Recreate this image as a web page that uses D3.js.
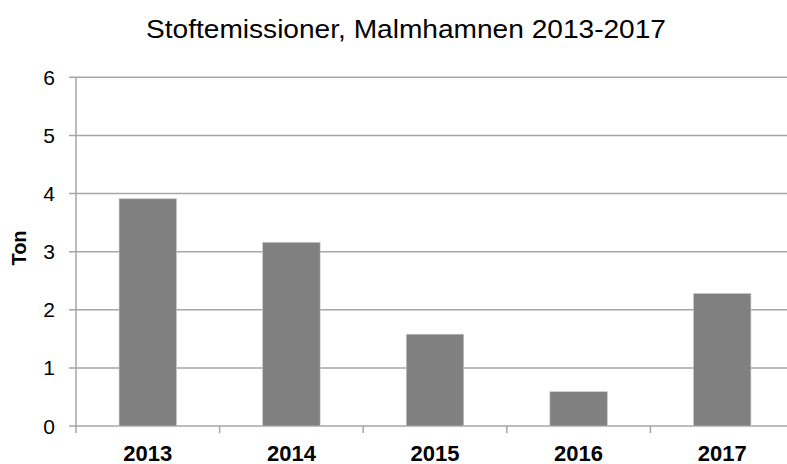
<!DOCTYPE html>
<html><head><meta charset="utf-8">
<script src="https://cdn.jsdelivr.net/npm/d3@7"></script>
<style>body{margin:0;background:#fff}svg{display:block;font-family:"Liberation Sans",Arial,sans-serif}</style>
</head><body>
<svg id="c" width="787" height="464"></svg>
<script>
const categories = ["2013","2014","2015","2016","2017"];
const values = [3.91, 3.16, 1.58, 0.59, 2.28];
const yTicks = [0,1,2,3,4,5,6];
const title = "Stoftemissioner, Malmhamnen 2013-2017";
const yLabel = "Ton";

(function(){
const svg = d3.select("#c");
const mLeft = 76, mRight = 794, mTop = 77.3, mBottom = 426;
const x = d3.scaleBand().domain(categories).range([mLeft,mRight]).paddingInner(0.6).paddingOuter(0.3);
const y = d3.scaleLinear().domain([0,6]).range([mBottom,mTop]);
const grid = "#a6a6a6";

svg.append("g").selectAll("line").data(yTicks).join("line")
  .attr("x1", mLeft-7).attr("x2", 787)
  .attr("y1", d=>y(d)).attr("y2", d=>y(d))
  .attr("stroke", grid).attr("stroke-width", 1.5);

svg.append("line").attr("x1",mLeft).attr("x2",mLeft).attr("y1",mTop).attr("y2",mBottom)
  .attr("stroke",grid).attr("stroke-width",1.5);

const step = x.step();
svg.append("g").selectAll("line").data(d3.range(categories.length+1)).join("line")
  .attr("x1", i=>mLeft+i*step).attr("x2", i=>mLeft+i*step)
  .attr("y1", mBottom).attr("y2", mBottom+7)
  .attr("stroke",grid).attr("stroke-width",1.5);

svg.append("g").selectAll("rect").data(values).join("rect")
  .attr("x",(d,i)=>x(categories[i])).attr("width",x.bandwidth())
  .attr("y",d=>y(d)).attr("height",d=>mBottom-y(d))
  .attr("fill","#808080").attr("stroke","#c8c8c8").attr("stroke-width",0.6);

svg.append("g").selectAll("text").data(yTicks).join("text")
  .attr("x",55).attr("y",d=>y(d)).attr("dy","0.36em")
  .attr("text-anchor","end").attr("font-size",21).attr("fill","#000").text(d=>d);

svg.append("g").selectAll("text").data(categories).join("text")
  .attr("x",d=>x(d)+x.bandwidth()/2).attr("y",460.5)
  .attr("text-anchor","middle").attr("font-size",22).attr("font-weight","bold").attr("fill","#000").text(d=>d);

svg.append("text").attr("transform","translate(26,248) rotate(-90)")
  .attr("text-anchor","middle").attr("font-size",20).attr("font-weight","bold").text(yLabel);

svg.append("text").attr("x",146).attr("y",38).attr("text-anchor","start")
  .attr("font-size",25).attr("fill","#000")
  .attr("textLength",520).attr("lengthAdjust","spacingAndGlyphs").text(title);
})();
</script>
</body></html>
